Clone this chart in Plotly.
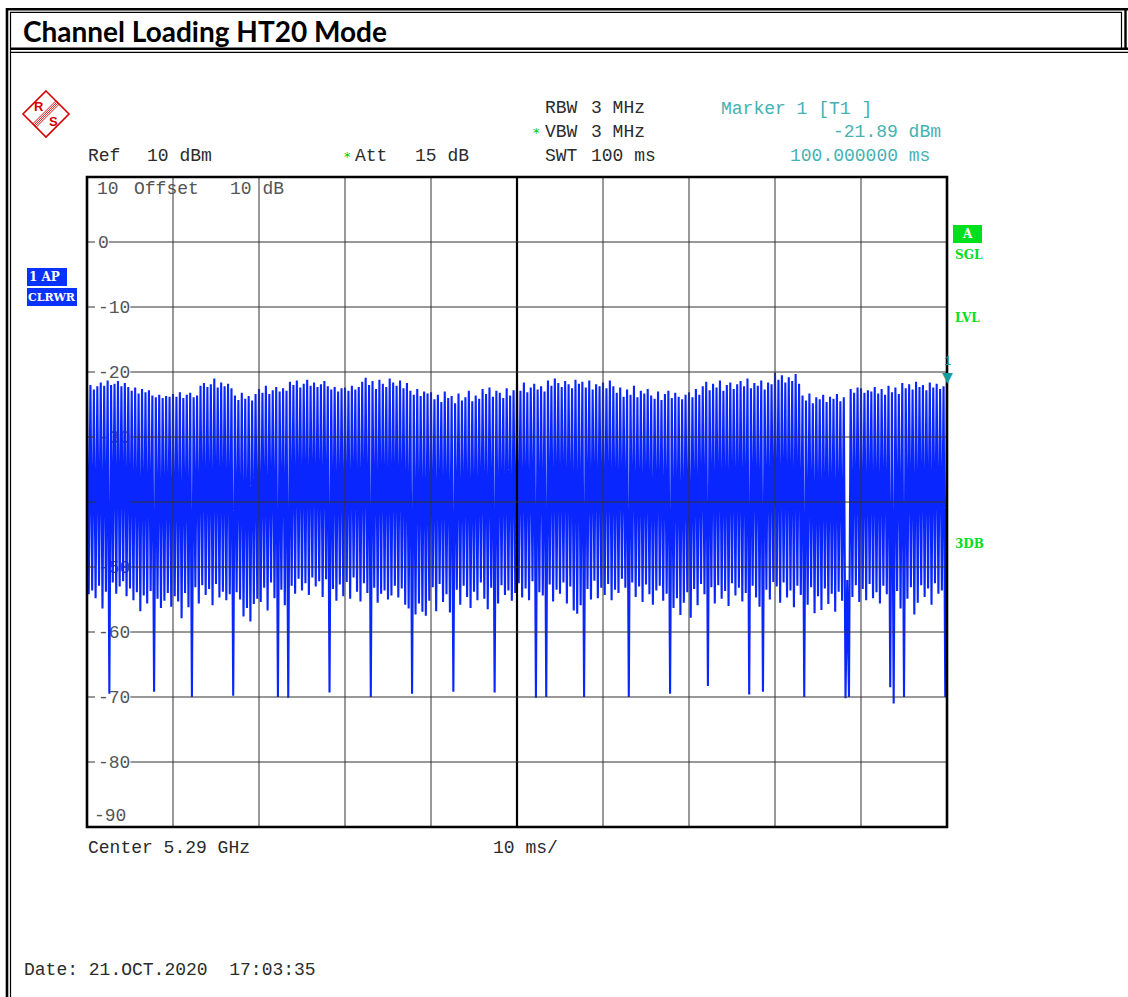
import plotly.graph_objects as go

# ---------------- data ----------------
SWEEP_MS = 100.0
# burst peak levels (dBm), one per burst slot, 10 divisions x 25
PEAKS_DBM = [
    -22.4, -22.0, -22.7, -22.2, -21.6, -22.1, -21.3, -22.0, -21.8, -21.4, -22.2, -21.7, -22.3, -22.9, -22.4, -23.3, -22.6, -23.1, -22.8, -23.6, -23.9, -23.5, -24.0, -23.7, -23.8,
    -23.4, -23.8, -23.1, -24.0, -23.5, -23.2, -23.9, -23.6, -22.1, -21.7, -22.3, -21.9, -21.0, -22.4, -21.6, -22.2, -21.8, -22.5, -23.6, -24.3, -23.2, -24.1, -23.7, -24.4, -23.4,
    -22.6, -23.2, -22.1, -23.4, -22.8, -22.3, -23.0, -22.5, -22.9, -21.5, -22.0, -21.3, -22.4, -21.8, -21.2, -22.1, -21.6, -22.3, -21.9, -21.4, -22.2, -22.7, -22.3, -23.0, -22.5,
    -22.4, -22.9, -22.1, -22.7, -22.3, -21.5, -20.9, -22.0, -21.4, -22.6, -21.2, -21.8, -22.3, -21.0, -21.6, -22.1, -21.3, -22.5, -21.7, -22.9, -23.5, -22.6, -23.7, -23.0, -23.3,
    -23.1, -24.2, -23.5, -24.6, -23.0, -24.0, -23.7, -24.8, -23.3, -24.4, -23.9, -22.9, -24.5, -23.6, -24.1, -22.6, -23.4, -22.4, -23.8, -22.9, -23.2, -24.0, -22.5, -23.6, -22.8,
    -22.0, -22.9, -21.6, -23.1, -22.4, -21.8, -22.7, -22.2, -23.0, -21.3, -22.1, -21.0, -21.7, -22.3, -21.4, -21.9, -22.5, -21.2, -21.8, -21.5, -22.4, -21.3, -22.7, -21.9, -22.2,
    -21.6, -22.5, -21.3, -22.2, -23.2, -22.4, -23.8, -22.7, -23.5, -22.1, -23.9, -22.9, -23.3, -22.6, -23.6, -24.1, -23.0, -24.3, -23.4, -22.9, -24.0, -23.2, -23.8, -24.2, -23.5,
    -23.1, -23.9, -22.6, -23.5, -22.2, -21.5, -22.8, -21.8, -22.4, -21.3, -22.9, -22.0, -21.6, -22.6, -21.9, -21.4, -22.2, -21.0, -22.5, -21.7, -22.1, -21.3, -22.7, -21.6, -21.9,
    -20.1, -21.2, -20.5, -21.6, -20.8, -21.4, -20.3, -21.8, -23.6, -24.4, -23.3, -24.8, -23.9, -24.2, -23.5, -24.6, -23.8, -24.1, -23.4, -24.5, -23.9, -52.0, -22.6, -23.2, -22.4,
    -22.5, -23.2, -22.8, -23.0, -22.3, -23.3, -22.6, -23.5, -22.1, -23.1, -22.4, -23.4, -21.7, -22.5, -21.9, -22.7, -21.5, -22.3, -22.0, -22.8, -21.6, -22.4, -21.8, -22.6, -22.2,
]
# level between bursts (dBm), one per slot
VALLEYS_DBM = [
    -54.2, -53.6, -54.8, -52.9, -56.4, -53.8, -69.5, -52.4, -54.1, -53.0, -52.2, -54.5, -53.3, -55.1, -53.9, -56.8, -54.4, -55.6, -53.7, -69.2, -54.9, -56.3, -55.2, -54.0, -56.1,
    -54.5, -55.3, -57.9, -54.0, -56.2, -70.0, -53.1, -55.6, -52.8, -54.3, -53.4, -55.9, -52.6, -54.7, -53.8, -55.1, -54.2, -69.8, -53.9, -55.0, -57.6, -56.3, -58.4, -55.7, -54.9,
    -55.4, -53.2, -56.7, -52.4, -54.8, -70.0, -53.5, -55.9, -70.1, -52.9, -54.1, -51.8, -53.6, -52.5, -54.3, -51.6, -53.0, -52.2, -54.6, -51.9, -69.3, -53.4, -55.2, -52.7, -54.5,
    -52.3, -54.9, -51.6, -53.8, -55.3, -52.5, -54.0, -70.0, -53.2, -55.5, -54.1, -53.6, -55.0, -54.4, -52.9, -54.7, -53.3, -55.8, -56.4, -69.5, -57.3, -55.6, -56.9, -57.5, -55.2,
    -53.1, -56.8, -52.6, -55.4, -54.2, -57.0, -69.2, -53.5, -55.8, -52.9, -54.6, -56.3, -53.8, -55.1, -52.4, -54.9, -56.5, -53.2, -69.3, -55.6, -52.8, -54.3, -53.6, -55.2, -54.0,
    -52.5, -54.7, -53.3, -55.1, -52.2, -70.1, -53.9, -54.4, -70.0, -52.7, -55.3, -53.5, -54.1, -52.4, -55.6, -53.0, -56.7, -57.2, -55.9, -70.0, -53.4, -55.0, -52.1, -54.8, -53.2,
    -54.3, -52.6, -55.1, -53.5, -54.0, -51.8, -53.2, -70.0, -52.4, -54.6, -53.0, -55.4, -52.7, -54.2, -55.8, -53.6, -52.9, -55.2, -54.1, -69.5, -56.3, -54.8, -57.4, -55.5, -53.9,
    -57.8, -53.4, -55.9, -52.6, -54.2, -68.3, -53.1, -55.6, -52.8, -54.9, -53.7, -56.0, -52.5, -54.4, -53.2, -55.3, -54.0, -69.6, -52.9, -54.7, -56.1, -69.2, -53.5, -55.0, -52.3,
    -53.0, -55.5, -52.4, -54.7, -53.6, -56.2, -52.9, -54.3, -70.0, -55.8, -53.1, -57.1, -54.5, -56.6, -53.3, -55.7, -54.1, -56.9, -53.8, -55.2, -70.2, -70.0, -54.6, -52.8, -55.4,
    -53.4, -55.1, -52.6, -54.8, -53.9, -55.6, -52.9, -54.2, -68.5, -71.0, -53.7, -56.4, -70.0, -54.9, -53.1, -57.3, -55.5, -52.8, -54.6, -53.3, -55.8, -52.5, -54.1, -53.6, -70.0,
]
MARKER_T_MS = 100.0
MARKER_DBM = -21.89

Y_RANGE = [-90, 10]
X_RANGE = [0, 100]
Y_TICKS = [0, -10, -20, -30, -40, -50, -60, -70, -80]
Y_TICK_TEXT = ["0", "-10", "-20", "-30", "-40", "-50", "-60", "-70", "-80"]
X_GRID_MS = [10, 20, 30, 40, 50, 60, 70, 80, 90]

# ---------------- geometry ----------------
W, H = 1128, 997
PX0, PX1, PY0, PY1 = 87, 947, 177, 827
MONO = "Liberation Mono, Courier New, monospace"
TEXT_C = "#2b2b2b"
TEAL = "#45b2b2"
GREEN = "#00e01e"
BLUE_BOX = "#0a32ff"
RED = "#d40000"
GRID_C = "#333333"


def fx(p):
    return p / W


def fy(p):
    return 1 - p / H


# ---------------- trace ----------------
n = len(PEAKS_DBM)
step = SWEEP_MS / (2 * n)
t, v = [], []
for i, (p, q) in enumerate(zip(PEAKS_DBM, VALLEYS_DBM)):
    t += [2 * i * step, (2 * i + 1) * step]
    v += [p, q]
t.append(MARKER_T_MS)
v.append(MARKER_DBM)

fig = go.Figure()
fig.add_trace(go.Scatter(x=t, y=v, mode="lines",
                         line=dict(color="#0a26ff", width=2.1),
                         hoverinfo="skip", showlegend=False))

shapes = []
annotations = []


def ann(text, x, y, xanchor="left", size=18, color=TEXT_C, family=MONO, **kw):
    annotations.append(dict(text=text, x=fx(x), y=fy(y), xref="paper", yref="paper",
                            xanchor=xanchor, yanchor="middle", showarrow=False,
                            font=dict(family=family, size=size, color=color), **kw))


def hline(x0, x1, y, w=1, c="black"):
    shapes.append(dict(type="line", xref="paper", yref="paper", x0=fx(x0), x1=fx(x1),
                       y0=fy(y), y1=fy(y), line=dict(color=c, width=w)))


def vline(x, y0, y1, w=1, c="black"):
    shapes.append(dict(type="line", xref="paper", yref="paper", x0=fx(x), x1=fx(x),
                       y0=fy(y0), y1=fy(y1), line=dict(color=c, width=w)))


def rect(x0, y0, x1, y1, fill):
    shapes.append(dict(type="rect", xref="paper", yref="paper", x0=fx(x0), x1=fx(x1),
                       y0=fy(y1), y1=fy(y0), fillcolor=fill, line=dict(width=0), layer="below"))


# page frame (double rules)
hline(6, 1128, 9.3, 2.4)
hline(10, 1122, 12.4, 1.2)
hline(10, 1128, 48.8, 2.4)
hline(10, 1128, 52.4, 1.2)
vline(7, 8, 997, 2.6)
vline(10.5, 12, 997, 1.2)
vline(1125.5, 8, 50, 2.4)
vline(1121.5, 12, 49, 1.2)

# title
annotations.append(dict(text="<b>Channel Loading HT20 Mode</b>", x=fx(21), y=fy(31),
                        xref="paper", yref="paper", xanchor="left", yanchor="middle",
                        showarrow=False,
                        font=dict(family="Lato, Liberation Sans, sans-serif",
                                  size=28, color="black")))

# R&S logo
cx, cy, hw, hh = 46, 114, 23, 23
pts = [(cx, cy - hh), (cx + hw, cy), (cx, cy + hh), (cx - hw, cy)]
path = "M " + " L ".join(f"{fx(a)},{fy(b)}" for a, b in pts) + " Z"
shapes.append(dict(type="path", xref="paper", yref="paper", path=path,
                   line=dict(color=RED, width=1.6), fillcolor="rgba(0,0,0,0)"))
for d in (-2.4, -0.8, 0.8, 2.4):
    shapes.append(dict(type="line", xref="paper", yref="paper",
                       x0=fx(cx + 11.5 + d * 0.7), y0=fy(cy - 11.5 + d * 0.7),
                       x1=fx(cx - 11.5 + d * 0.7), y1=fy(cy + 11.5 + d * 0.7),
                       line=dict(color=RED, width=0.9)))
ann("<b>R</b>", 39, 106, xanchor="center", size=13, color=RED, family="Liberation Sans, sans-serif")
ann("<b>S</b>", 53, 122, xanchor="center", size=13, color=RED, family="Liberation Sans, sans-serif")

# header texts
ann("RBW", 543, 108)
ann("3 MHz", 647, 108, xanchor="right")
ann("*", 536, 133, xanchor="center", size=13, color="#00c800", family="DejaVu Sans")
ann("VBW", 543, 132)
ann("3 MHz", 647, 132, xanchor="right")
ann("SWT", 543, 156)
ann("100 ms", 658, 156, xanchor="right")
ann("Ref", 86, 156)
ann("10 dBm", 214, 156, xanchor="right")
ann("*", 347, 157, xanchor="center", size=13, color="#00c800", family="DejaVu Sans")
ann("Att", 353, 156)
ann("15 dB", 471, 156, xanchor="right")
ann("Marker 1 [T1 ]", 719, 109, color=TEAL)
ann(f"{MARKER_DBM:.2f} dBm", 943, 132, xanchor="right", color=TEAL)
ann(f"{MARKER_T_MS:.6f} ms", 932, 156, xanchor="right", color=TEAL)
ann("10", 95, 189, color="#555555")
ann("Offset", 132, 189, color="#555555")
ann("10 dB", 228, 189, color="#555555")
ann("-90", 92, 816, color="#555555")
ann("Center 5.29 GHz", 86, 848)
ann("10 ms/", 491, 848)
ann("Date: 21.OCT.2020  17:03:35", 22, 970)

# side boxes
rect(27, 268, 67, 286, BLUE_BOX)
rect(27, 288, 77, 306, BLUE_BOX)
ann("<b>1 AP</b>", 27, 277, size=12, color="white", family="DejaVu Serif")
ann("<b>CLRWR</b>", 26, 297, size=11, color="white", family="DejaVu Serif")
rect(953, 225, 982, 243, GREEN)
ann("<b>A</b>", 967.5, 234, xanchor="center", size=12, color="white", family="DejaVu Serif")
ann("<b>SGL</b>", 953, 255, size=12, color=GREEN, family="DejaVu Serif")
ann("<b>LVL</b>", 953, 318, size=12, color=GREEN, family="DejaVu Serif")
ann("<b>3DB</b>", 953, 544, size=12, color=GREEN, family="DejaVu Serif")

# marker symbol
annotations.append(dict(text="▼", x=MARKER_T_MS, y=MARKER_DBM, xref="x", yref="y",
                        xanchor="center", yanchor="bottom", showarrow=False, yshift=-3,
                        font=dict(family="DejaVu Sans", size=14, color="#169a9a")))
annotations.append(dict(text="1", x=MARKER_T_MS, y=MARKER_DBM, xref="x", yref="y",
                        xanchor="center", yanchor="bottom", showarrow=False, yshift=13,
                        font=dict(family=MONO, size=12, color="#169a9a")))

# grid drawn on top of the trace (as on the analyzer screen)
pxms = (PX1 - PX0) / (X_RANGE[1] - X_RANGE[0])
for g in X_GRID_MS:
    shapes.append(dict(type="line", xref="x", yref="y domain", x0=g, x1=g, y0=0, y1=1,
                       layer="above",
                       line=dict(color="black" if g == 50 else GRID_C, width=2.2 if g == 50 else 1)))
for val, txt in zip(Y_TICKS, Y_TICK_TEXT):
    left_end = (95 - PX0) / pxms
    right_start = (97 + len(txt) * 10.8 + 1 - PX0) / pxms
    for a, b in ((X_RANGE[0], left_end), (right_start, X_RANGE[1])):
        shapes.append(dict(type="line", xref="x", yref="y", x0=a, x1=b, y0=val, y1=val,
                           layer="above", line=dict(color=GRID_C, width=1)))
shapes.append(dict(type="rect", xref="x domain", yref="y domain", x0=0, x1=1, y0=0, y1=1,
                   layer="above", line=dict(color="black", width=2.6)))

fig.update_layout(
    width=W, height=H, margin=dict(l=0, r=0, t=0, b=0),
    paper_bgcolor="white", plot_bgcolor="white",
    showlegend=False, shapes=shapes, annotations=annotations,
    xaxis=dict(domain=[fx(PX0), fx(PX1)], range=X_RANGE, showgrid=False, zeroline=False,
               showticklabels=False, ticks="", showline=False, fixedrange=True),
    yaxis=dict(domain=[fy(PY1), fy(PY0)], range=Y_RANGE, showgrid=False, zeroline=False,
               tickvals=Y_TICKS, ticktext=Y_TICK_TEXT, ticks="", ticklabelposition="inside",
               ticklabelstandoff=8, layer="below traces", showline=False, fixedrange=True,
               tickfont=dict(family=MONO, size=18, color="#555555")),
)

fig.write_html("out.html", config={"displayModeBar": False},
               post_script="document.body.style.margin='0';document.body.style.overflow='hidden';")
